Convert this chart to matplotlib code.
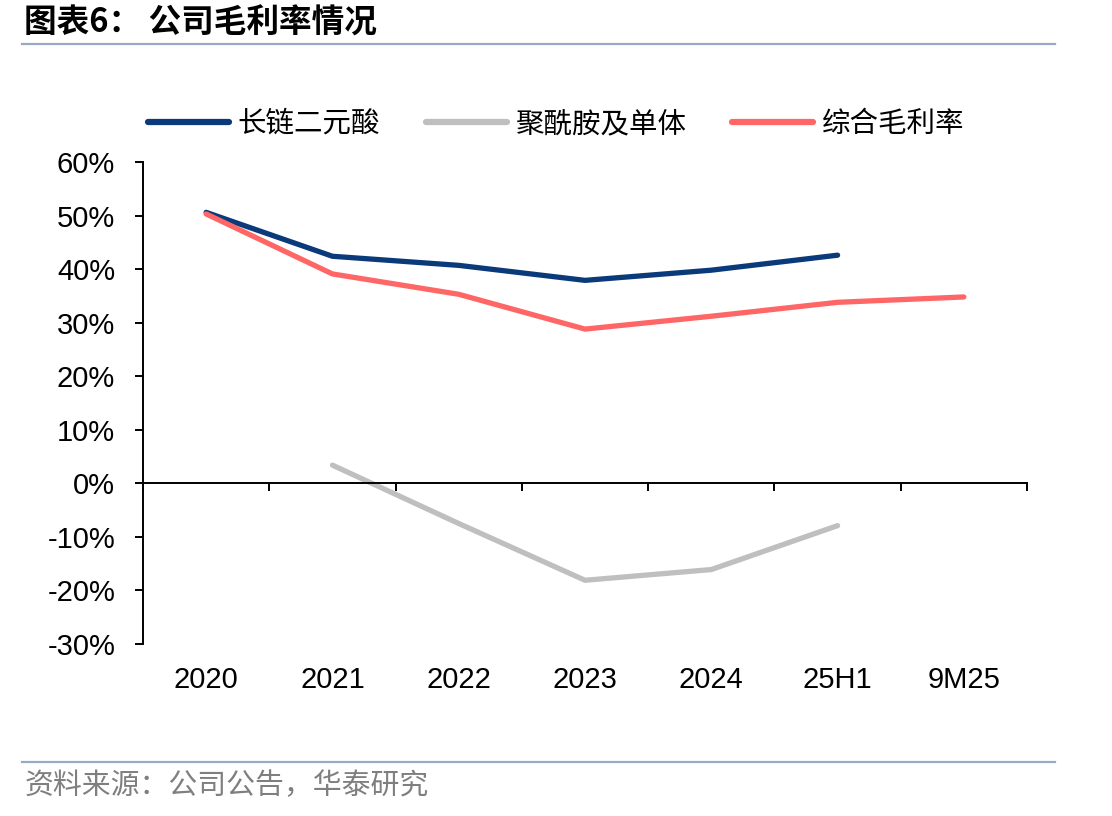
import matplotlib
matplotlib.use("Agg")
import numpy as np
import matplotlib.pyplot as plt
from matplotlib.lines import Line2D

plt.rcParams['font.family'] = ['Liberation Sans', 'Noto Sans CJK SC', 'DejaVu Sans']

categories = ["2020", "2021", "2022", "2023", "2024", "25H1", "9M25"]
acid_margin = [50.6, 42.4, 40.7, 37.9, 39.8, 42.6, np.nan]
polyamide_margin = [np.nan, 3.4, -7.5, -18.1, -16.1, -7.9, np.nan]
overall_margin = [50.3, 39.1, 35.3, 28.8, 31.2, 33.8, 34.8]
series_names = ["长链二元酸", "聚酰胺及单体", "综合毛利率"]
yticks = [60, 50, 40, 30, 20, 10, 0, -10, -20, -30]

colors = ["#0B3A7A", "#BFBFBF", "#FF6666"]
cjk = ['Noto Sans CJK SC', 'DejaVu Sans']

W, H = 1112, 816
fig = plt.figure(figsize=(W / 100, H / 100), dpi=100)
ax = fig.add_axes([143 / W, 1 - 644 / H, (1027 - 143) / W, (644 - 162) / H])

x = np.arange(len(categories))
handles = []
for vals, c, name in zip([acid_margin, polyamide_margin, overall_margin], colors, series_names):
    ln, = ax.plot(x, vals, color=c, lw=3.8, solid_capstyle='round', solid_joinstyle='round', label=name)
    handles.append(ln)

ax.set_xlim(-0.5, len(categories) - 0.5)
ax.set_ylim(-30, 60)
ax.set_yticks(yticks)
ax.set_yticklabels([f"{v}%" for v in yticks], fontsize=21)

ax.spines['top'].set_visible(False)
ax.spines['right'].set_visible(False)
ax.spines['bottom'].set_position(('data', 0))
for s in ['left', 'bottom']:
    ax.spines[s].set_linewidth(1.4)
    ax.spines[s].set_color('black')

ax.set_xticks(np.arange(-0.5, len(categories), 1.0))
ax.set_xticklabels([])
ax.tick_params(axis='x', direction='out', length=6, width=1.4)
ax.tick_params(axis='y', direction='out', length=6, width=1.4, pad=14)

for xi, lab in zip(x, categories):
    ax.text(xi, -0.075, lab, transform=ax.get_xaxis_transform(), ha='center', va='center', fontsize=21)

leg = fig.legend(handles, series_names, loc='center left', bbox_to_anchor=(148 / W, 1 - 124 / H),
                 ncol=3, frameon=False, prop={'family': cjk, 'size': 20.5}, handlelength=2.85,
                 handletextpad=0.3, columnspacing=1.6, borderpad=0, borderaxespad=0)
for lh in leg.get_lines():
    lh.set_linewidth(4.5)
    lh.set_solid_capstyle('round')

# title and source
fig.text(24 / W, 1 - 23 / H, "图表6： 公司毛利率情况", family=cjk, fontsize=23.5, fontweight='bold',
         ha='left', va='center')
fig.add_artist(Line2D([22 / W, 1055 / W], [1 - 44 / H, 1 - 44 / H], color='#95ABC8', lw=1.6))
fig.add_artist(Line2D([22 / W, 1055 / W], [1 - 762 / H, 1 - 762 / H], color='#95ABC8', lw=1.6))
fig.text(25 / W, 1 - 786 / H, "资料来源：公司公告，华泰研究", family=cjk, fontsize=20.8, color='#7F7F7F',
         ha='left', va='center')

fig.savefig("out.png", dpi=100)
